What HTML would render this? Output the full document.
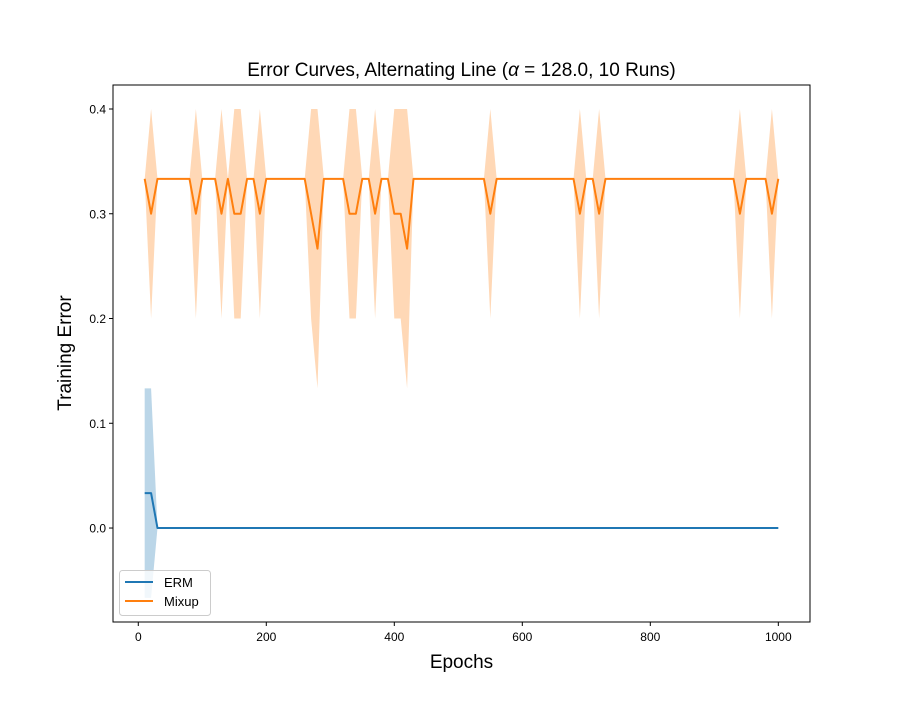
<!DOCTYPE html>
<html><head><meta charset="utf-8"><style>
body{margin:0;background:#fff;}
svg{font-family:"Liberation Sans","DejaVu Sans",sans-serif;}
</style></head><body>
<svg id="chart" width="900" height="700" viewBox="0 0 900 700">
<rect width="900" height="700" fill="#fff"/>
<g id="bands"></g><g id="lines"></g>
<rect x="113" y="85" width="697" height="537" fill="none" stroke="#000" stroke-width="1"/>
<g id="xticks"></g><g id="yticks"></g>
<text x="461.5" y="76" font-size="19" text-anchor="middle">Error Curves, Alternating Line (<tspan font-style="italic">α</tspan> = 128.0, 10 Runs)</text>
<text x="461.5" y="668" font-size="19" text-anchor="middle">Epochs</text>
<text x="71" y="353" font-size="19" text-anchor="middle" transform="rotate(-90 71 353)">Training Error</text>
<g>
<rect x="119.5" y="570.5" width="91" height="45" rx="3" fill="#fff" fill-opacity="0.8" stroke="#ccc"/>
<g><line x1="125" y1="582" x2="153" y2="582" stroke="#1f77b4" stroke-width="2"/><text x="164" y="587" font-size="13">ERM</text></g>
<g><line x1="125" y1="601" x2="153" y2="601" stroke="#ff7f0e" stroke-width="2"/><text x="164" y="606" font-size="13">Mixup</text></g>
</g>
</svg>
<script>
const epochs = Array.from({length:100},(_,i)=>(i+1)*10);
const mixupDips = [20,90,130,150,160,190,270,330,340,370,400,410,550,690,720,940,990];
const mixupDeepDips = [280,420];
const ermEarly = [10,20];
const xTicks = [0,200,400,600,800,1000];
const yTicks = [0.0,0.1,0.2,0.3,0.4];
const yTickLabels = ["0.0","0.1","0.2","0.3","0.4"];

const mixMean = epochs.map(e=> mixupDeepDips.includes(e)?0.26667 : mixupDips.includes(e)?0.3 : 0.33333);
const mixStd = epochs.map(e=> mixupDeepDips.includes(e)?0.13333 : mixupDips.includes(e)?0.1 : 0);
const ermMean = epochs.map(e=> ermEarly.includes(e)?0.03333:0);
const ermStd = epochs.map(e=> ermEarly.includes(e)?0.1:0);

const X0=113,X1=810,Y0=85,Y1=622;
const xmin=-39.5,xmax=1049.5,ymin=-0.0897,ymax=0.4229;
const xs=v=>X0+(v-xmin)/(xmax-xmin)*(X1-X0);
const ys=v=>Y1-(v-ymin)/(ymax-ymin)*(Y1-Y0);
const NS="http://www.w3.org/2000/svg";
function mk(t,a,p){const el=document.createElementNS(NS,t);for(const k in a)el.setAttribute(k,a[k]);p.appendChild(el);return el;}
const bands=document.getElementById('bands'),lines=document.getElementById('lines');
function series(mean,std,color,name){
  const up=epochs.map((e,i)=>xs(e)+','+ys(mean[i]+std[i]));
  const lo=epochs.map((e,i)=>xs(e)+','+ys(mean[i]-std[i])).reverse();
  const b=mk('polygon',{points:up.concat(lo).join(' '),fill:color,'fill-opacity':0.3},bands);
  
  
  const l=mk('polyline',{points:epochs.map((e,i)=>xs(e)+','+ys(mean[i])).join(' '),fill:'none',stroke:color,'stroke-width':2,'stroke-linejoin':'round'},lines);
  
  
}
series(ermMean,ermStd,'#1f77b4','erm');
series(mixMean,mixStd,'#ff7f0e','mixup');
const xt=document.getElementById('xticks');
xTicks.forEach(v=>{
  const g=mk('g',{},xt);
  
  
  mk('line',{x1:xs(v),x2:xs(v),y1:Y1,y2:Y1+4,stroke:'#000'},g);
  const t=mk('text',{x:xs(v),y:Y1+19,'font-size':12,'text-anchor':'middle'},g);t.textContent=v;
});
const yt=document.getElementById('yticks');
yTicks.forEach((v,i)=>{
  const g=mk('g',{},yt);
  
  
  mk('line',{x1:X0-4,x2:X0,y1:ys(v),y2:ys(v),stroke:'#000'},g);
  const t=mk('text',{x:X0-7,y:ys(v)+4.5,'font-size':12,'text-anchor':'end'},g);t.textContent=yTickLabels[i];
});
</script>
</body></html>
